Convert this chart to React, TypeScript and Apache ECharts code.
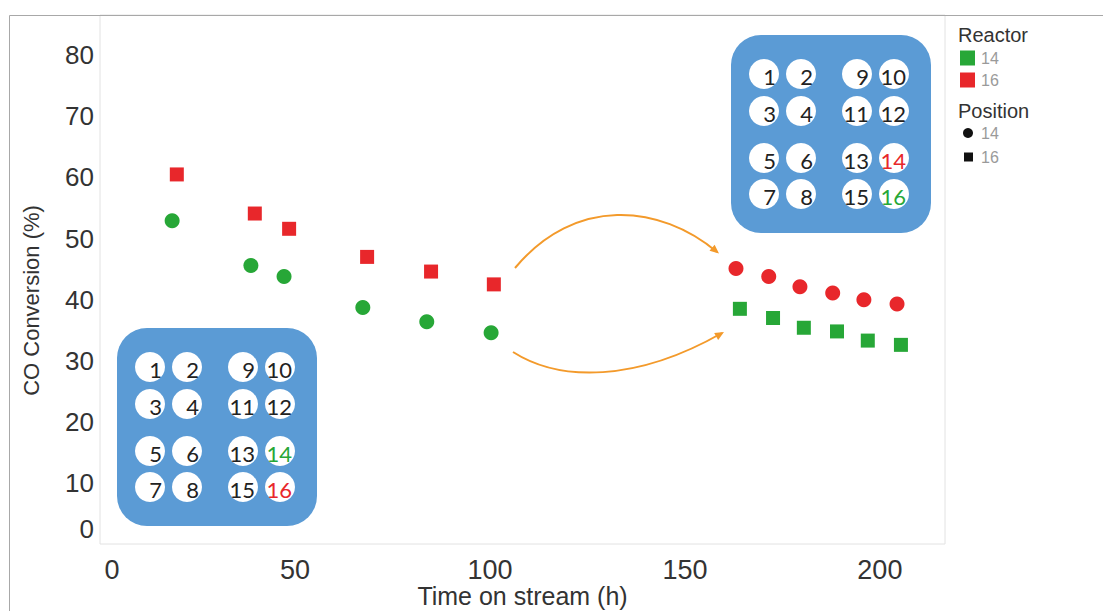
import React, { useEffect, useRef } from "react";
import * as echarts from "echarts";

// Reactor 16 in position 16 (first period) and reactor 14 in position 14
const p1TimeR16 = [19.7, 39.7, 48.5, 68.5, 84.9, 101.0];
const p1ConvR16 = [60.5, 54.1, 51.6, 47.0, 44.6, 42.5];
const p1TimeR14 = [18.5, 38.7, 47.2, 67.4, 83.8, 100.3];
const p1ConvR14 = [52.9, 45.6, 43.8, 38.7, 36.4, 34.6];
// After swapping: reactor 16 in position 14, reactor 14 in position 16
const p2TimeR16 = [163.1, 171.5, 179.5, 187.9, 195.9, 204.4];
const p2ConvR16 = [45.1, 43.8, 42.1, 41.1, 40.0, 39.3];
const p2TimeR14 = [164.1, 172.6, 180.5, 189.0, 196.9, 205.4];
const p2ConvR14 = [38.5, 37.0, 35.4, 34.8, 33.3, 32.6];

const xTickLabels = [0, 50, 100, 150, 200];
const yTickLabels = [0, 10, 20, 30, 40, 50, 60, 70, 80];
const insetNumbers = [
  [1, 2, 9, 10],
  [3, 4, 11, 12],
  [5, 6, 13, 14],
  [7, 8, 15, 16],
];
const legendReactor = ["14", "16"];
const legendPosition = ["14", "16"];

const GREEN = "#27a737";
const RED = "#e8272b";
const BLUE = "#5b9bd5";
const ORANGE = "#f39a2b";
const FONT = "'Liberation Sans', Arial, sans-serif";

const zip = (xs: number[], ys: number[]) => xs.map((x, i) => [x, ys[i]]);

function inset(ox: number, oy: number, c14: string, c16: string) {
  const cols = [33, 70, 126, 163];
  const rows = [39, 76, 123, 159];
  const children: any[] = [
    {
      type: "rect",
      shape: { x: ox, y: oy, width: 200, height: 198, r: 30 },
      style: { fill: BLUE },
    },
  ];
  insetNumbers.forEach((row, ri) => {
    row.forEach((n, ci) => {
      const cx = ox + cols[ci];
      const cy = oy + rows[ri];
      children.push({ type: "circle", shape: { cx, cy, r: 15 }, style: { fill: "#ffffff" } });
      children.push({
        type: "text",
        x: cx + 12,
        y: cy + 2,
        style: {
          text: String(n),
          align: "right",
          verticalAlign: "middle",
          fontFamily: "Lato, 'Open Sans', sans-serif",
          fontSize: 22,
          fill: n === 14 ? c14 : n === 16 ? c16 : "#222222",
        },
      });
    });
  });
  return { type: "group", children };
}

function arrowHead(tipX: number, tipY: number, dx: number, dy: number) {
  const len = Math.hypot(dx, dy);
  const ux = dx / len;
  const uy = dy / len;
  const L = 9;
  const Wd = 4;
  const bx = tipX - ux * L;
  const by = tipY - uy * L;
  return {
    type: "polygon",
    shape: {
      points: [
        [tipX, tipY],
        [bx - uy * Wd, by + ux * Wd],
        [bx + uy * Wd, by - ux * Wd],
      ],
    },
    style: { fill: ORANGE },
  };
}

function legendText(text: string, x: number, y: number, big: boolean) {
  return {
    type: "text",
    x,
    y,
    style: {
      text,
      fontSize: big ? 20 : 16,
      fontFamily: FONT,
      fill: big ? "#333" : "#9a9a9a",
      verticalAlign: "middle",
    },
  };
}

export default function App() {
  const ref = useRef<HTMLDivElement>(null);
  useEffect(() => {
    if (!ref.current) return;
    const chart = echarts.init(ref.current, undefined, { renderer: "svg" });
    const labelColor = "#333333";
    const legendX = 958;
    const option: any = {
      animation: false,
      backgroundColor: "#ffffff",
      grid: {
        left: 100,
        width: 845,
        top: 15,
        height: 529,
        outerBoundsMode: "none",
        containLabel: false,
        show: true,
        borderColor: "#e2e2e2",
        borderWidth: 1,
        backgroundColor: "transparent",
      },
      xAxis: {
        type: "value",
        min: 0,
        max: 216.7,
        interval: 50,
        axisLine: { show: false },
        axisTick: { show: false },
        splitLine: { show: false },
        axisLabel: {
          margin: 12,
          fontSize: 27,
          fontFamily: FONT,
          color: labelColor,
          formatter: (v: number) =>
            xTickLabels.includes(v) ? (v === 0 ? "{z|0}" : String(v)) : "",
          rich: {
            z: { padding: [0, 0, 0, 24], fontSize: 27, fontFamily: FONT, color: labelColor },
          },
        },
        name: "Time on stream (h)",
        nameLocation: "middle",
        nameGap: 38,
        nameMoveOverlap: false,
        nameTextStyle: { fontSize: 25, fontFamily: FONT, color: labelColor, lineHeight: 28 },
      },
      yAxis: {
        type: "value",
        min: 0,
        max: 86.6,
        interval: 10,
        axisLine: { show: false },
        axisTick: { show: false },
        splitLine: { show: false },
        axisLabel: {
          margin: 6,
          fontSize: 26,
          fontFamily: FONT,
          color: labelColor,
          formatter: (v: number) =>
            yTickLabels.includes(v) ? (v === 0 ? "{z|0}" : String(v)) : "",
          rich: {
            z: { padding: [0, 0, 30, 0], fontSize: 26, fontFamily: FONT, color: labelColor },
          },
        },
        name: "CO Conversion (%)",
        nameLocation: "middle",
        nameGap: 58,
        nameTextStyle: {
          fontSize: 22,
          fontFamily: FONT,
          color: labelColor,
          padding: [0, 42, 0, 0],
        },
      },
      series: [
        {
          name: "Reactor 16 / Position 16",
          type: "scatter",
          symbol: "rect",
          symbolSize: 14,
          itemStyle: { color: RED, opacity: 1 },
          data: zip(p1TimeR16, p1ConvR16),
          z: 3,
        },
        {
          name: "Reactor 14 / Position 14",
          type: "scatter",
          symbol: "circle",
          symbolSize: 15,
          itemStyle: { color: GREEN, opacity: 1 },
          data: zip(p1TimeR14, p1ConvR14),
          z: 3,
        },
        {
          name: "Reactor 16 / Position 14",
          type: "scatter",
          symbol: "circle",
          symbolSize: 15,
          itemStyle: { color: RED, opacity: 1 },
          data: zip(p2TimeR16, p2ConvR16),
          z: 3,
        },
        {
          name: "Reactor 14 / Position 16",
          type: "scatter",
          symbol: "rect",
          symbolSize: 14,
          itemStyle: { color: GREEN, opacity: 1 },
          data: zip(p2TimeR14, p2ConvR14),
          z: 3,
        },
      ],
      graphic: [
        // outer frame
        { type: "line", shape: { x1: 9.5, y1: 15.5, x2: 1103, y2: 15.5 }, style: { stroke: "#a8a8a8", lineWidth: 1 } },
        { type: "line", shape: { x1: 9.5, y1: 15.5, x2: 9.5, y2: 611 }, style: { stroke: "#a8a8a8", lineWidth: 1 } },
        // insets
        inset(117, 328, GREEN, RED),
        inset(731, 35, RED, GREEN),
        // arrows
        {
          type: "bezierCurve",
          shape: { x1: 515, y1: 268, cpx1: 575, cpy1: 196, cpx2: 660, cpy2: 204, x2: 717, y2: 252 },
          style: { stroke: ORANGE, lineWidth: 2, fill: "none" },
        },
        arrowHead(719, 253.5, 57, 47),
        {
          type: "bezierCurve",
          shape: { x1: 513, y1: 352, cpx1: 560, cpy1: 382, cpx2: 636, cpy2: 382, x2: 722, y2: 333 },
          style: { stroke: ORANGE, lineWidth: 2, fill: "none" },
        },
        arrowHead(724, 332, 86, -49),
        // legend
        legendText("Reactor", legendX, 35, true),
        { type: "rect", shape: { x: 960, y: 50.5, width: 15, height: 15 }, style: { fill: GREEN } },
        legendText(legendReactor[0], 981, 58, false),
        { type: "rect", shape: { x: 960, y: 72.5, width: 15, height: 15 }, style: { fill: RED } },
        legendText(legendReactor[1], 981, 80, false),
        legendText("Position", legendX, 111, true),
        { type: "circle", shape: { cx: 968, cy: 133, r: 5 }, style: { fill: "#111" } },
        legendText(legendPosition[0], 981, 133, false),
        { type: "rect", shape: { x: 964, y: 152.5, width: 9, height: 9 }, style: { fill: "#111" } },
        legendText(legendPosition[1], 981, 157, false),
      ],
    };
    chart.setOption(option);
    return () => chart.dispose();
  }, []);
  return (
    <div
      ref={ref}
      style={{ position: "fixed", left: 0, top: 0, width: 1103, height: 611, background: "#fff" }}
    />
  );
}
